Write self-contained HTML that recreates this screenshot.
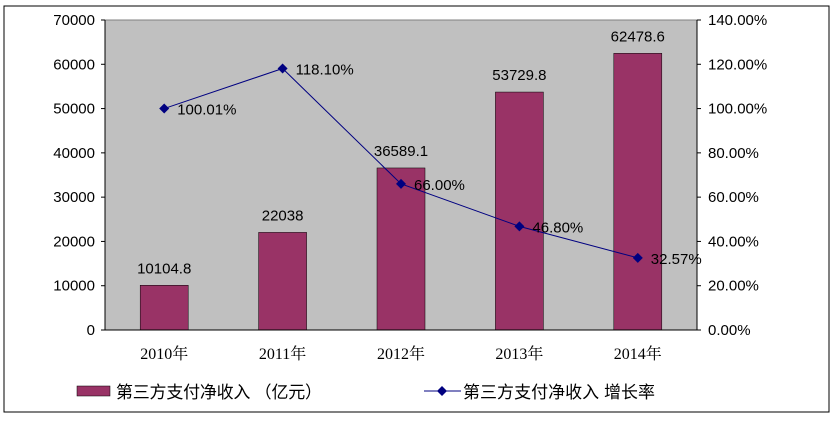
<!DOCTYPE html>
<html><head><meta charset="utf-8"><style>
body{margin:0;background:#fff;}
</style></head><body>
<svg id="chart" width="836" height="420" style="font-family:'Liberation Sans','Noto Sans CJK SC',sans-serif">
<rect x="4" y="6" width="825" height="406" fill="#fff" stroke="#000" stroke-width="1"/>
<rect x="105" y="20" width="592" height="310" fill="#c0c0c0" stroke="#808080"/>
<g id="g"></g>
</svg>
<script>
const categories=["2010年","2011年","2012年","2013年","2014年"];
const income=[10104.8,22038,36589.1,53729.8,62478.6];
const incomeLabels=["10104.8","22038","36589.1","53729.8","62478.6"];
const growth=[100.01,118.10,66.00,46.80,32.57];
const growthLabels=["100.01%","118.10%","66.00%","46.80%","32.57%"];
const leftTicks=[0,10000,20000,30000,40000,50000,60000,70000];
const rightTicks=["0.00%","20.00%","40.00%","60.00%","80.00%","100.00%","120.00%","140.00%"];
const X0=105,X1=697,Y0=330,Y1=20;
const bw=(X1-X0)/categories.length;
const xc=i=>X0+bw*(i+0.5);
const yL=v=>Y0-(v/70000)*(Y0-Y1);
const yR=v=>Y0-(v/140)*(Y0-Y1);
const g=document.getElementById('g');const NS="http://www.w3.org/2000/svg";
function mk(t,a,txt){const e=document.createElementNS(NS,t);for(const k in a)e.setAttribute(k,a[k]);if(txt!==undefined)e.textContent=txt;g.appendChild(e);return e;}
leftTicks.forEach((v,i)=>{
 let e=mk('text',{x:95,y:yL(v)+5,'text-anchor':'end','font-size':15},String(v));
 
 
 mk('line',{x1:101,x2:105,y1:yL(v),y2:yL(v),stroke:'#000'});
 e=mk('text',{x:708,y:yL(v)+5,'font-size':15},rightTicks[i]);
 
 
 mk('line',{x1:697,x2:701,y1:yL(v),y2:yL(v),stroke:'#000'});
});
mk('line',{x1:105,x2:105,y1:20,y2:330,stroke:'#000'});
mk('line',{x1:697,x2:697,y1:20,y2:330,stroke:'#000'});
categories.forEach((c,i)=>{
 let r=mk('rect',{x:xc(i)-24,y:yL(income[i]),width:48,height:Y0-yL(income[i]),fill:'#993366',stroke:'#000','stroke-width':0.5});
 
 
 let t=mk('text',{x:xc(i),y:yL(income[i])-12,'text-anchor':'middle','font-size':15},incomeLabels[i]);
 
 
 t=mk('text',{x:xc(i),y:359,'text-anchor':'middle','font-size':16,style:"font-family:'Liberation Serif','Noto Serif CJK SC',serif"},c);
 
 
});
mk('line',{x1:105,x2:697,y1:330,y2:330,stroke:'#000'});
const pts=growth.map((v,i)=>xc(i)+','+yR(v)).join(' ');
let pl=mk('polyline',{points:pts,fill:'none',stroke:'#000080','stroke-width':1});


growth.forEach((v,i)=>{
 let x=xc(i),y=yR(v);
 let p=mk('polygon',{points:`${x},${y-5} ${x+5},${y} ${x},${y+5} ${x-5},${y}`,fill:'#000080'});
 
 
 let t=mk('text',{x:x+13,y:y+6,'font-size':15},growthLabels[i]);
 
 
});
let lr=mk('rect',{x:77,y:386,width:33,height:10,fill:'#993366',stroke:'#000','stroke-width':0.5});


let lt=mk('text',{x:116,y:398,'font-size':17,textLength:206},'第三方支付净收入 （亿元）');


mk('line',{x1:424,x2:461,y1:391,y2:391,stroke:'#000080'});
mk('polygon',{points:'442,386 447,391 442,396 437,391',fill:'#000080'});
lt=mk('text',{x:463,y:398,'font-size':17,textLength:192},'第三方支付净收入 增长率');


</script>
</body></html>
